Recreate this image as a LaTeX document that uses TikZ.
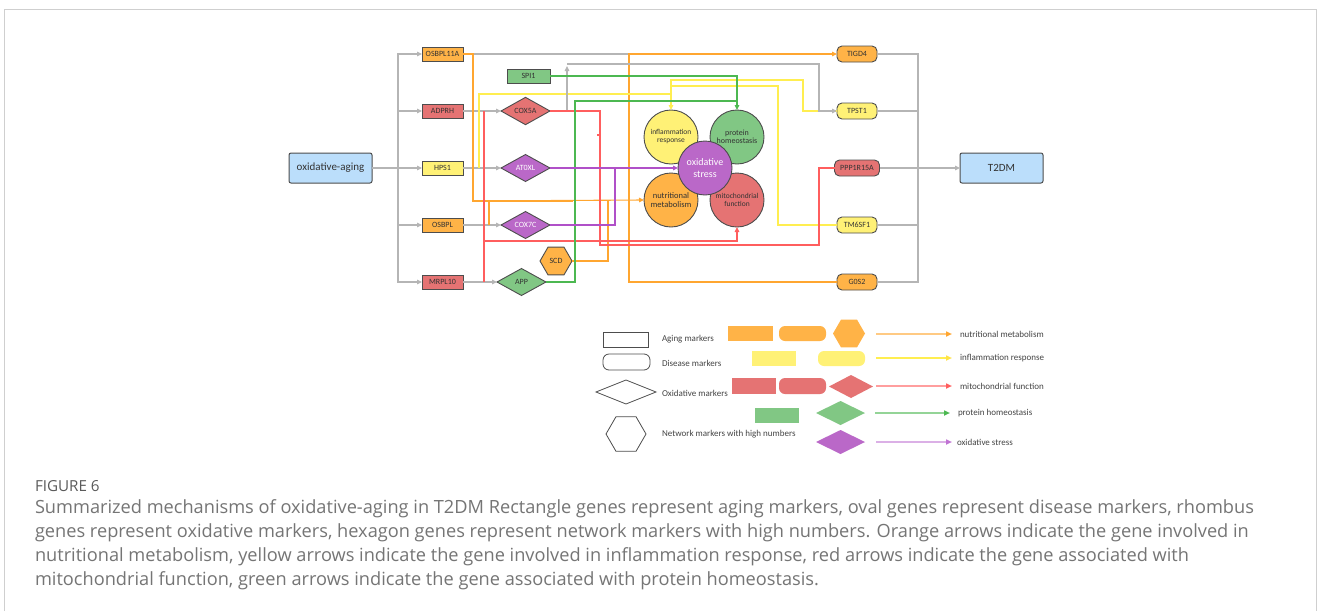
\documentclass[tikz,border=0pt]{standalone}
\usepackage{fontspec}
\setmainfont{Open Sans}
\newfontfamily\nf{Carlito}
\newfontfamily\cf{Open Sans}
\usetikzlibrary{shapes.geometric,arrows.meta,calc}
\definecolor{bdark}{HTML}{4D4D4D}
\definecolor{tdark}{HTML}{333333}
\definecolor{lgray}{HTML}{B5B5B5}
\definecolor{fOr}{HTML}{FFB347}
\definecolor{fRe}{HTML}{E57373}
\definecolor{fYe}{HTML}{FFF176}
\definecolor{fGr}{HTML}{81C784}
\definecolor{fPu}{HTML}{BA68C8}
\definecolor{fBl}{HTML}{BBDEFB}
\definecolor{lOr}{HTML}{FFA630}
\definecolor{lYe}{HTML}{FFEE50}
\definecolor{lRe}{HTML}{FF5E5E}
\definecolor{lGr}{HTML}{4CB851}
\definecolor{lPu}{HTML}{B050C8}
\definecolor{capgray}{HTML}{757575}
\definecolor{figgray}{HTML}{5A5A5A}
\definecolor{framegray}{HTML}{CFCFCF}
\definecolor{legtext}{HTML}{444444}
\begin{document}
\begin{tikzpicture}[x=1pt,y=-1pt,
  >={Triangle[length=5pt,width=4.5pt]},
  every node/.style={inner sep=0pt,outer sep=0pt},
  gbase/.style={draw=bdark,line width=0.9pt,font=\nf\fontsize{8}{9}\selectfont,text=tdark},
  recg/.style={gbase,rectangle,minimum width=41pt,minimum height=14pt},
  ovg/.style={gbase,rectangle,rounded corners=5pt,minimum width=40pt,minimum height=16pt},
  dmg/.style={gbase,diamond,minimum width=49pt,minimum height=27pt},
  hexg/.style={gbase,regular polygon,regular polygon sides=6,minimum size=32pt},
  bub/.style={gbase,circle,minimum size=54pt,align=center},
  bigbox/.style={draw=bdark,line width=1pt,fill=fBl,rounded corners=2pt,minimum width=83pt,minimum height=30pt,font=\nf\fontsize{11}{12}\selectfont,text=tdark},
  cl/.style={line width=1.1pt},
  gl/.style={cl,draw=lgray},
  ol/.style={cl,draw=lOr},
  yl/.style={cl,draw=lYe},
  rl/.style={cl,draw=lRe},
  grl/.style={cl,draw=lGr},
  pl/.style={cl,draw=lPu},
  legout/.style={draw=bdark,line width=0.8pt,fill=white},
  legshape/.style={draw=none},
  legtxt/.style={anchor=west,font=\nf\fontsize{9}{10}\selectfont,text=legtext},
  legarrow/.style={line width=1.6pt},
  capline/.style={anchor=west,font=\cf\fontsize{18.2}{20}\selectfont,text=capgray,text height=13pt,text depth=4pt}
]
\useasboundingbox (0,0) rectangle (1328,611);
\fill[white] (0,0) rectangle (1328,611);
\draw[framegray,line width=1pt] (4,611) -- (4,9) -- (1316,9) -- (1316,611);

% main boxes
\node[bigbox] (oa) at (330.5,168) {oxidative-aging};
\node[bigbox] (t2) at (1001.5,168) {T2DM};

% left genes
\node[recg,fill=fOr] (g1) at (442.5,54) {OSBPL11A};
\node[recg,fill=fRe] (g2) at (442.5,111) {ADPRH};
\node[recg,fill=fYe] (g3) at (442.5,168) {HPS1};
\node[recg,fill=fOr] (g4) at (442.5,225) {OSBPL};
\node[recg,fill=fRe] (g5) at (442.5,282) {MRPL10};

\node[recg,fill=fGr,minimum width=43pt] (spi) at (528.5,76) {SPI1};

% diamonds
\node[dmg,fill=fRe] (d1) at (525.5,111) {COX5A};
\node[dmg,fill=fPu,text=white] (d2) at (525.5,168) {AT0XL};
\node[dmg,fill=fPu,text=white] (d3) at (525.5,225) {COX7C};
\node[dmg,fill=fGr] (d4) at (521.5,282) {APP};
\node[hexg,fill=fOr] (scd) at (556,261) {SCD};

% right genes
\node[ovg,fill=fOr] (r1) at (857,54) {TIGD4};
\node[ovg,fill=fYe] (r2) at (857,111) {TPST1};
\node[ovg,fill=fRe,minimum width=45pt] (r3) at (857,168) {PPP1R15A};
\node[ovg,fill=fYe] (r4) at (857,225) {TM6SF1};
\node[ovg,fill=fOr] (r5) at (857,282) {G0S2};

% gray trunk left
\draw[gl,->] (oa.east) -- (g3.west);
\draw[gl,->] (oa.east) -- ++(26,0) |- (g1.west);
\draw[gl,->] (oa.east) -- ++(26,0) |- (g2.west);
\draw[gl,->] (oa.east) -- ++(26,0) |- (g4.west);
\draw[gl,->] (oa.east) -- ++(26,0) |- (g5.west);
\draw[gl,->] (g2.east) -- (d1.west);
\draw[gl,->] (g3.east) -- (d2.west);
\draw[gl,->] (g4.east) -- (d3.west);
\draw[gl,->] (g5.east) -- (d4.west);
\draw[gl] (g1.east) -- ++(166,0);

% gray trunk right
\draw[gl] (r1.east) -- ++(41,0) |- (r5.east);
\draw[gl] (r2.east) -- ++(41,0);
\draw[gl] (r4.east) -- ++(41,0);
\draw[gl,->] (r3.east) -- (t2.west);

% orange
\draw[ol,->] (r5.west) -- ++(-208,0) -- ++(0,-228) -- (r1.west);
\draw[ol] (g1.east) -- ++(10,0) -- ++(0,147) -- ++(100,0);
\draw[ol] (g4.east) ++(26,0) -- ++(0,-24);
\draw[ol] (scd.east) -- ++(36,0) -- ++(0,-60);

% yellow
\draw[yl] (g3.east) ++(16,0) -- ++(0,-74) -- ++(100,0);
\draw[yl] (r4.west) -- ++(-59,0) -- ++(0,-139) -- ++(-107,0);

% bubbles
\node[bub,fill=fYe,font=\nf\fontsize{7.5}{8}\selectfont] (cI) at (671,137) {inflammation\\response};
\node[bub,fill=fGr,font=\nf\fontsize{8}{8.5}\selectfont] (cP) at (737,137) {protein\\homeostasis};
\node[bub,fill=fOr,font=\nf\fontsize{8.5}{9.5}\selectfont] (cN) at (671,200) {nutritional\\metabolism};
\node[bub,fill=fRe,font=\nf\fontsize{7.5}{8.5}\selectfont] (cM) at (737,200) {mitochondrial\\function};
\node[bub,fill=fPu,text=white,font=\nf\fontsize{10}{11.5}\selectfont] (cO) at (705,168) {oxidative\\stress};

% yellow arrows
\draw[yl,->] (g3.east) ++(16,-74) -| (cI.north);
\draw[yl] (cI.north) ++(0,-16) -- ++(0,-14) -- ++(132,0) |- (r2.west);

% orange arrow into nutritional
\draw[ol,->] (g1.east) ++(10,147) -- (cN.west);

% gray to TPST1 and up-arrow
\draw[gl,->] (d1.east) ++(17,0) -- ++(0,-45);
\draw[gl,->] (d1.east) ++(17,-47) -- ++(252,0) |- (r2.west);

% red
\draw[rl] (g2.east) ++(21,0) -- ++(0,171);
\draw[rl,->] (g2.east) ++(21,130) -| (cM.south);
\draw[rl] (d1.east) -- ++(50,0) -- ++(0,134) -- ++(219,0) |- (r3.west);
\fill[lRe] (597.3,134.3) rectangle ++(1.6,1.6);

% green
\draw[grl,->] (spi.east) -| (cP.north);
\draw[grl] (d4.east) -- ++(29,0) -- ++(0,-181) -- ++(162,0);

% purple
\draw[pl,->] (d2.east) -- (cO.west);
\draw[pl] (d3.east) -- ++(65,0) -- ++(0,-57);

% legend outlines
\node[legout,rectangle,minimum width=45pt,minimum height=15pt] (lg1) at (625.5,339.5) {};
\node[legtxt] (lt1) at (662,339) {Aging markers};
\node[legout,rectangle,rounded corners=6pt,minimum width=47pt,minimum height=16pt] (lg2) at (626.5,362) {};
\node[legtxt] (lt2) at (662,363) {Disease markers};
\node[legout,diamond,minimum width=60pt,minimum height=24pt] (lg3) at (626,392) {};
\node[legtxt] (lt3) at (662,393) {Oxidative markers};
\node[legout,regular polygon,regular polygon sides=6,minimum size=40pt] (lg4) at (626,434) {};
\node[legtxt] (lt4) at (662,434) {Network markers with high numbers};

% legend coloured shapes
\node[legshape,fill=fOr,rectangle,minimum width=45pt,minimum height=15pt] (lo1) at (750.5,333.5) {};
\node[legshape,fill=fOr,rectangle,rounded corners=6pt,minimum width=47pt,minimum height=15pt] (lo2) at (802.5,333.5) {};
\node[legshape,fill=fOr,regular polygon,regular polygon sides=6,minimum size=32pt] (lo3) at (849,333.5) {};
\node[legshape,fill=fYe,rectangle,minimum width=44pt,minimum height=15pt] (ly1) at (774,358.5) {};
\node[legshape,fill=fYe,rectangle,rounded corners=6pt,minimum width=47pt,minimum height=15pt] (ly2) at (841.5,358.5) {};
\node[legshape,fill=fRe,rectangle,minimum width=44pt,minimum height=16pt] (lr1) at (754,386) {};
\node[legshape,fill=fRe,rectangle,rounded corners=6pt,minimum width=47pt,minimum height=16pt] (lr2) at (802.5,386) {};
\node[legshape,fill=fRe,diamond,minimum width=44pt,minimum height=23pt] (lr3) at (851,386.5) {};
\node[legshape,fill=fGr,rectangle,minimum width=44pt,minimum height=15pt] (lgr1) at (777,415.5) {};
\node[legshape,fill=fGr,diamond,minimum width=49pt,minimum height=24pt] (lgr2) at (840.5,413) {};
\node[legshape,fill=fPu,diamond,minimum width=49pt,minimum height=24pt] (lp1) at (840.5,442) {};

% legend arrows
\coordinate (a1s) at (876,334); \coordinate (a1e) at (952,334);
\coordinate (a2s) at (876,358); \coordinate (a2e) at (952,358);
\coordinate (a3s) at (876,386); \coordinate (a3e) at (952,386);
\coordinate (a4s) at (875,413); \coordinate (a4e) at (950,413);
\coordinate (a5s) at (876,442); \coordinate (a5e) at (952,442);
\draw[legarrow,draw=lOr!60,-{Triangle[length=6pt,width=5pt,color=lOr]}] (a1s) -- (a1e);
\draw[legarrow,draw=lYe,-{Triangle[length=6pt,width=5pt,color=lYe!90!orange]}] (a2s) -- (a2e);
\draw[legarrow,draw=lRe!60,-{Triangle[length=6pt,width=5pt,color=lRe]}] (a3s) -- (a3e);
\draw[legarrow,draw=lGr!60,-{Triangle[length=6pt,width=5pt,color=lGr]}] (a4s) -- (a4e);
\draw[legarrow,draw=lPu!45,-{Triangle[length=6pt,width=5pt,color=lPu!80]}] (a5s) -- (a5e);
\node[legtxt] (lx1) at (960,334) {nutritional metabolism};
\node[legtxt] (lx2) at (960,358) {inflammation response};
\node[legtxt] (lx3) at (960,386) {mitochondrial function};
\node[legtxt] (lx4) at (958,413) {protein homeostasis};
\node[legtxt] (lx5) at (957,442) {oxidative stress};

% caption
\node[anchor=west,font=\cf\fontsize{15.2}{17}\selectfont,text=figgray] (fig) at (35,486) {FIGURE 6};
\node[capline] (c1) at (35,509) {Summarized mechanisms of oxidative-aging in T2DM Rectangle genes represent aging markers, oval genes represent disease markers, rhombus};
\node[capline] (c2) at (35,533) {genes represent oxidative markers, hexagon genes represent network markers with high numbers. Orange arrows indicate the gene involved in};
\node[capline] (c3) at (35,557) {nutritional metabolism, yellow arrows indicate the gene involved in inflammation response, red arrows indicate the gene associated with};
\node[capline] (c4) at (35,581) {mitochondrial function, green arrows indicate the gene associated with protein homeostasis.};
\end{tikzpicture}
\end{document}
